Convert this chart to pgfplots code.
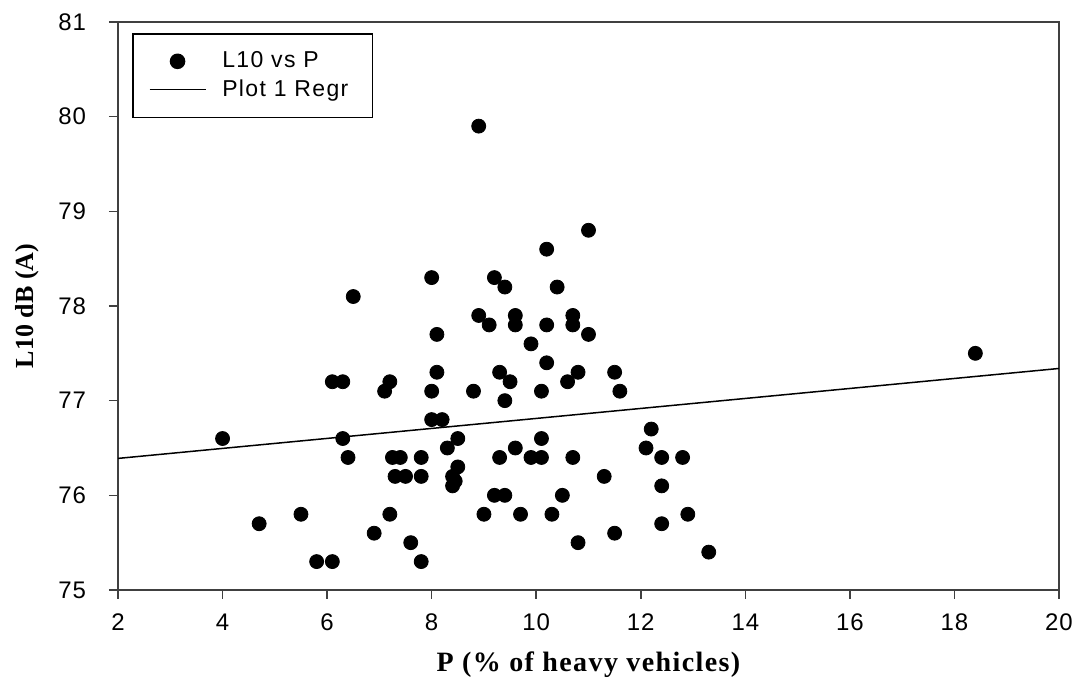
\documentclass[border=0pt]{standalone}
\usepackage{fontspec}
\setmainfont{Liberation Sans}
\newfontfamily\labfont{Liberation Serif}
\usepackage{pgfplots}
\pgfplotsset{compat=1.18}
\pgfplotsset{
    dotlegend/.style={legend image code/.code={\draw[##1] plot coordinates {(14pt,0pt)};}},
    linelegend/.style={legend image code/.code={\draw[##1] (0pt,0pt) -- (28pt,0pt);}},
}

\pgfplotstableread{
P     L
4.0   76.6
4.7   75.7
5.5   75.8
5.8   75.3
6.1   75.3
6.1   77.2
6.3   77.2
6.3   76.6
6.4   76.4
6.5   78.1
6.9   75.6
7.1   77.1
7.2   77.2
7.2   75.8
7.25  76.4
7.4   76.4
7.3   76.2
7.5   76.2
7.6   75.5
7.8   76.4
7.8   76.2
7.8   75.3
8.0   78.3
8.0   77.1
8.0   76.8
8.1   77.7
8.1   77.3
8.2   76.8
8.3   76.5
8.4   76.1
8.4   76.2
8.45  76.15
8.5   76.3
8.5   76.6
8.8   77.1
8.9   79.9
8.9   77.9
9.0   75.8
9.1   77.8
9.2   78.3
9.2   76.0
9.3   77.3
9.3   76.4
9.4   78.2
9.4   77.0
9.4   76.0
9.5   77.2
9.6   77.9
9.6   77.8
9.6   76.5
9.7   75.8
9.9   77.6
9.9   76.4
10.1  76.6
10.1  76.4
10.1  77.1
10.2  78.6
10.2  77.8
10.2  77.4
10.3  75.8
10.4  78.2
10.5  76.0
10.6  77.2
10.7  77.9
10.7  77.8
10.7  76.4
10.8  77.3
10.8  75.5
11.0  78.8
11.0  77.7
11.3  76.2
11.5  77.3
11.5  75.6
11.6  77.1
12.1  76.5
12.2  76.7
12.4  76.4
12.4  76.1
12.4  75.7
12.8  76.4
12.9  75.8
13.3  75.4
18.4  77.5
}\scatterdata

\begin{document}
\begin{tikzpicture}
\begin{axis}[
    scale only axis,
    width=470.5pt, height=284pt,
    xmin=2, xmax=20, ymin=75, ymax=81,
    xtick={2,4,...,20}, ytick={75,76,...,81},
    /pgf/number format/assume math mode=true,
    ticklabel style={font=\addfontfeatures{LetterSpace=4}\fontsize{12}{14}\selectfont},
    xticklabel shift=4pt,
    yticklabel shift=8pt,
    tick align=outside,
    xtick pos=left, ytick pos=left,
    major tick length=4.5pt,
    axis line style={black!75, line width=1pt},
    every tick/.style={black!75, line width=0.8pt},
    xlabel={\addfontfeatures{LetterSpace=5}P (\% of heavy vehicles)},
    ylabel={L10 dB (A)},
    xlabel style={font=\labfont\bfseries\fontsize{14}{16}\selectfont,
        at={(axis description cs:0.5,0)}, anchor=center, yshift=-37.5pt},
    ylabel style={font=\labfont\bfseries\fontsize{13}{15}\selectfont,
        at={(axis description cs:0,0.5)}, anchor=center, yshift=45.5pt},
    legend cell align=left,
    legend style={
        at={(0,1)}, anchor=north west, xshift=7pt, yshift=-5.5pt,
        draw=black, line width=0.8pt,
        inner xsep=8pt, inner ysep=8pt,
        font=\addfontfeatures{LetterSpace=6}\fontsize{11.5}{13}\selectfont,
        row sep=2.5pt,
        nodes={inner sep=1pt},
        /tikz/every odd column/.append style={column sep=7pt},
    },
]
\addplot[only marks, mark=*, mark size=3.5pt, black, dotlegend]
    table[x=P, y=L] {\scatterdata};
\addlegendentry{\makebox[66pt][l]{L10 vs P}}
\addplot[black, line width=0.75pt, no marks, linelegend]
    coordinates {(2,76.39) (20,77.34)};
\addlegendentry{\makebox[66pt][l]{Plot 1 Regr}}
\end{axis}
\pgfresetboundingbox
\path (current axis.south west) ++(-59pt,-49.5pt) coordinate (bbA);
\path (current axis.north east) ++(11pt,11pt) coordinate (bbB);
\useasboundingbox (bbA) rectangle (bbB);
\end{tikzpicture}
\end{document}
